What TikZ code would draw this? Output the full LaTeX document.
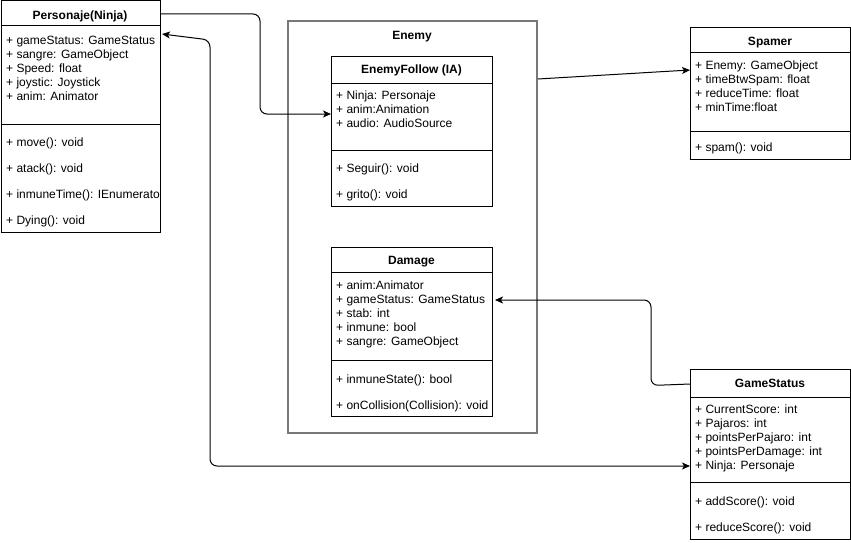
\documentclass[tikz,border=0pt]{standalone}
\usepackage{fontspec}
\setmainfont{Liberation Sans}
\usetikzlibrary{arrows.meta,calc}
\definecolor{framegray}{RGB}{120,120,120}
\begin{document}
\begin{tikzpicture}[x=1pt,y=-1pt,
  umlbox/.style={draw=black, line width=1pt, fill=white, inner sep=0pt, anchor=north west},
  container/.style={draw=framegray, line width=1.8pt, inner sep=0pt, anchor=north west},
  ttl/.style={font=\fontsize{12}{14}\selectfont\bfseries, inner sep=0pt, text height=11pt, text depth=2pt},
  row/.style={font=\fontsize{12}{14}\selectfont, anchor=west, inner sep=0pt, text height=11pt, text depth=2pt},
  sepline/.style={line width=1pt},
  link/.style={line width=1pt, rounded corners=7pt},
  tip/.style={-{Stealth[length=8pt,width=7pt,inset=2pt]}},
  bitip/.style={{Stealth[length=8pt,width=7pt,inset=2pt]}-{Stealth[length=8pt,width=7pt,inset=2pt]}}]
\useasboundingbox[fill=white] (0,0) rectangle (851,543);

% ---- Enemy container ----
\node[container, minimum width=249pt, minimum height=412pt] (enemy) at (287,20) {};
\node[ttl] (enemyT) at (412,35) {Enemy};

% ---- Personaje(Ninja) ----
\node[umlbox, minimum width=159.5pt, minimum height=231.5pt] (pers) at (0.5,0.5) {};
\node[ttl] (persT) at (80,15) {Personaje(Ninja)};
\draw[sepline] (0.5,26) -- (160,26);
\draw[sepline] (0.5,124) -- (160,124);
\foreach \t [count=\i] in {+ gameStatus: GameStatus, + sangre: GameObject, + Speed: float, + joystic: Joystick, + anim: Animator}
  \node[row] (persA\i) at (6,{26+14*\i}) {\t};
\begin{scope}
  \clip (0.5,124) rectangle (159.5,232);
  \foreach \t [count=\i] in {+ move(): void, + atack(): void, + inmuneTime(): IEnumerator, + Dying(): void}
    \node[row] (persM\i) at (6,{116+26*\i}) {\t};
\end{scope}

% ---- EnemyFollow (IA) ----
\node[umlbox, minimum width=161pt, minimum height=150pt] (ef) at (331,56) {};
\node[ttl] (efT) at (411.5,69) {EnemyFollow (IA)};
\draw[sepline] (331,83) -- (492,83);
\draw[sepline] (331,150) -- (492,150);
\foreach \t [count=\i] in {+ Ninja: Personaje, + anim:Animation, + audio: AudioSource}
  \node[row] (efA\i) at (336,{81+14*\i}) {\t};
\foreach \t [count=\i] in {+ Seguir(): void, + grito(): void}
  \node[row] (efM\i) at (336,{142+26*\i}) {\t};

% ---- Damage ----
\node[umlbox, minimum width=161pt, minimum height=169pt] (dmg) at (331,247) {};
\node[ttl] (dmgT) at (411.5,260) {Damage};
\draw[sepline] (331,272) -- (492,272);
\draw[sepline] (331,360) -- (492,360);
\foreach \t [count=\i] in {+ anim:Animator, + gameStatus: GameStatus, + stab: int, + inmune: bool, + sangre: GameObject}
  \node[row] (dmgA\i) at (336,{271+14*\i}) {\t};
\foreach \t [count=\i] in {+ inmuneState(): bool, + onCollision(Collision): void}
  \node[row] (dmgM\i) at (336,{353+26*\i}) {\t};

% ---- Spamer ----
\node[umlbox, minimum width=160pt, minimum height=132pt] (spam) at (690,27) {};
\node[ttl] (spamT) at (770,41) {Spamer};
\draw[sepline] (690,53) -- (850,53);
\draw[sepline] (690,131) -- (850,131);
\foreach \t [count=\i] in {+ Enemy: GameObject, + timeBtwSpam: float, + reduceTime: float, + minTime:float}
  \node[row] (spamA\i) at (695,{51+14*\i}) {\t};
\node[row] (spamM1) at (695,147) {+ spam(): void};

% ---- GameStatus ----
\node[umlbox, minimum width=160pt, minimum height=170pt] (gs) at (690,369) {};
\node[ttl] (gsT) at (770,383) {GameStatus};
\draw[sepline] (690,397) -- (850,397);
\draw[sepline] (690,482) -- (850,482);
\foreach \t [count=\i] in {+ CurrentScore: int, + Pajaros: int, + pointsPerPajaro: int, + pointsPerDamage: int, + Ninja: Personaje}
  \node[row] (gsA\i) at (695,{395+14*\i}) {\t};
\foreach \t [count=\i] in {+ addScore(): void, + reduceScore(): void}
  \node[row] (gsM\i) at (695,{475+26*\i}) {\t};

% ---- connectors ----
\draw[link,tip] ($(pers.north east)+(0,13.5)$) -- (260,14) -- (260,114) -- ($(ef.north west)+(0,58)$);
\draw[link,tip] ($(enemy.north east)+(0,59)$) -- ($(spam.north west)+(0,43)$);
\draw[link,tip] ($(gs.north west)+(0,15)$) -- (651,385.5) -- (651,300) -- ($(dmg.north east)+(2,53)$);
\draw[link,bitip] ($(pers.north east)+(1,33.5)$) -- (210,40) -- (210,466) -- ($(gs.north west)+(0,97)$);
\end{tikzpicture}
\end{document}
